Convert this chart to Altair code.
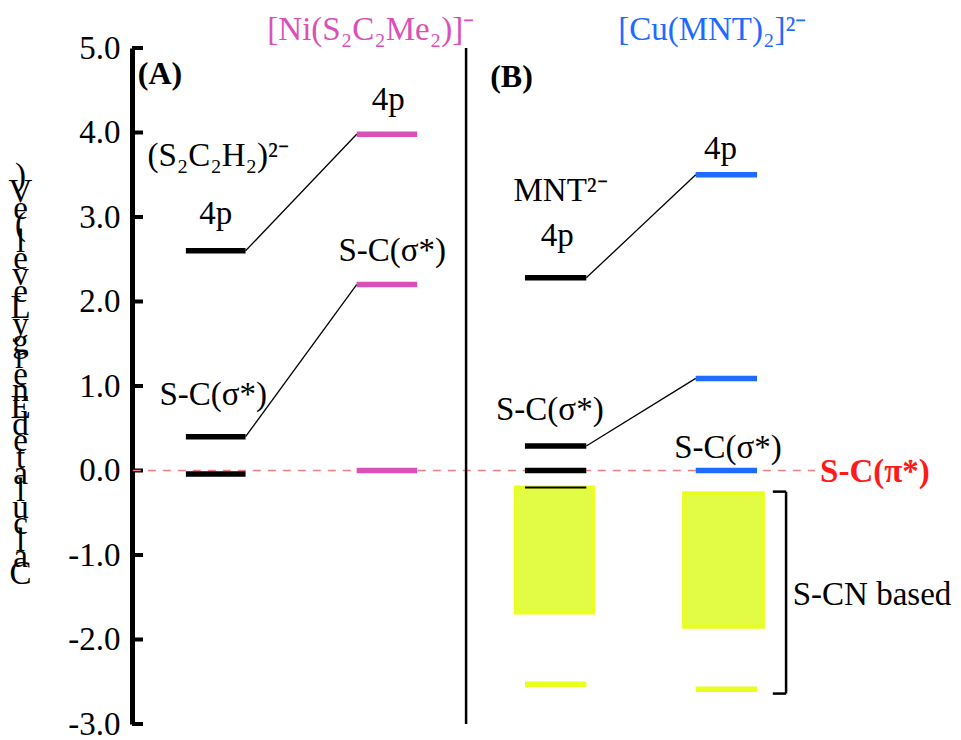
import altair as alt
import pandas as pd

SERIF = "Liberation Serif"
PINK = "#DA50B8"
BLUE = "#1F6BFF"
YELLOW_FILL = "#E2FC45"
YELLOW_EDGE = "#EAFF1E"

# Energy axis (eV)
y_ticks = [-3, -2, -1, 0, 1, 2, 3, 4, 5]

# Horizontal extents of each column of levels (arbitrary 0-100 units)
x_a_lig = [6.5, 13.7]
x_a_cpx = [27.1, 34.4]
x_b_lig = [47.4, 54.8]
x_b_cpx = [68.0, 75.4]

# Orbital energies (eV)
a_lig_levels = [2.60, 0.40, -0.04]      # (S2C2H2)2-
a_cpx_levels = [3.98, 2.20, 0.00]       # [Ni(S2C2Me2)]-
b_lig_levels = [2.28, 0.29, 0.00]       # MNT2-
b_cpx_levels = [3.50, 1.09, 0.00]       # [Cu(MNT)2]2-
b_lig_edge = [-0.20]
b_lig_low = [-2.53]
b_cpx_low = [-2.59]

# S-CN based bands
band_x0 = [46.3, 66.6]
band_x1 = [55.6, 76.1]
band_top = [-0.20, -0.27]
band_bottom = [-1.68, -1.85]

# Correlation lines: (ligand level, complex level)
a_links = [(2.60, 3.98), (0.40, 2.20)]
b_links = [(2.28, 3.50), (0.29, 1.09)]

axis_title = "Calculated Energy Level (eV)"

# ---- tables built from the arrays above ----
rows = []
for v in a_lig_levels:
    rows.append(dict(x0=x_a_lig[0], x1=x_a_lig[1], y=v, c="black", w=5.5))
for v in a_cpx_levels:
    rows.append(dict(x0=x_a_cpx[0], x1=x_a_cpx[1], y=v, c=PINK, w=5.5))
for v in b_lig_levels:
    rows.append(dict(x0=x_b_lig[0], x1=x_b_lig[1], y=v, c="black", w=5.5))
for v in b_cpx_levels:
    rows.append(dict(x0=x_b_cpx[0], x1=x_b_cpx[1], y=v, c=BLUE, w=5.5))
for v in b_lig_low:
    rows.append(dict(x0=x_b_lig[0], x1=x_b_lig[1], y=v, c=YELLOW_EDGE, w=5.5))
for v in b_cpx_low:
    rows.append(dict(x0=x_b_cpx[0], x1=x_b_cpx[1], y=v, c=YELLOW_EDGE, w=5.5))
levels = pd.DataFrame(rows)

edge = pd.DataFrame([dict(x0=x_b_lig[0], x1=x_b_lig[1], y=v) for v in b_lig_edge])

bands = pd.DataFrame(dict(x0=band_x0, x1=band_x1, y0=band_top, y1=band_bottom))

links = pd.DataFrame(
    [dict(x0=x_a_lig[1], y0=a, x1=x_a_cpx[0], y1=b) for a, b in a_links]
    + [dict(x0=x_b_lig[1], y0=a, x1=x_b_cpx[0], y1=b) for a, b in b_links]
)

ticks = pd.DataFrame(dict(y=y_ticks))

x_scale = alt.Scale(domain=[0, 100], nice=False, zero=False)
y_scale = alt.Scale(domain=[-3, 5], nice=False, zero=False)

X = lambda f: alt.X(f, type="quantitative", scale=x_scale, axis=None)
base_axis = alt.Axis(
    values=y_ticks,
    labelExpr="datum.value < 0 ? '-' + format(-datum.value, '.1f') : format(datum.value, '.1f')",
    labelFont=SERIF, labelFontSize=33, labelColor="black", labelPadding=12,
    ticks=False, grid=False,
    domainColor="black", domainWidth=5,
    # letters stacked upright, read from bottom to top
    title=list(reversed(axis_title)),
    titleFont=SERIF, titleFontSize=33, titleFontWeight="normal", titleColor="black",
    titleAngle=0, titleAlign="center", titleBaseline="middle",
    titleLineHeight=16.6, titleX=-112, titleY=127,
)

# y axis carrier + inward ticks
axis_layer = alt.Chart(ticks).mark_rule(color="black", strokeWidth=4).encode(
    y=alt.Y("y:Q", scale=y_scale, axis=base_axis),
    x=alt.value(0), x2=alt.value(11),
)

# Reference line at the S-C(pi*) energy
zero_df = pd.DataFrame(dict(x0=[0.1], x1=[82.4], y=[0.0]))
zero_line = alt.Chart(zero_df).mark_rule(color="#F08080", strokeWidth=1.6, strokeDash=[8, 7]).encode(
    x=X("x0"), x2="x1", y=alt.Y("y:Q", scale=y_scale)
)

# Divider between panels
div_df = pd.DataFrame(dict(x=[40.3], y0=[5.0], y1=[-3.0]))
divider = alt.Chart(div_df).mark_rule(color="black", strokeWidth=2.5).encode(
    x=X("x"), y=alt.Y("y0:Q", scale=y_scale), y2="y1"
)

band_layer = alt.Chart(bands).mark_rect(fill=YELLOW_FILL, stroke=YELLOW_EDGE, strokeWidth=4).encode(
    x=X("x0"), x2="x1", y=alt.Y("y0:Q", scale=y_scale), y2="y1"
)

edge_layer = alt.Chart(edge).mark_rule(color="black", strokeWidth=2).encode(
    x=X("x0"), x2="x1", y=alt.Y("y:Q", scale=y_scale)
)

level_layer = alt.Chart(levels).mark_rule(strokeCap="butt").encode(
    x=X("x0"), x2="x1", y=alt.Y("y:Q", scale=y_scale),
    color=alt.Color("c:N", scale=None),
    strokeWidth=alt.StrokeWidth("w:Q", scale=None),
)

link_layer = alt.Chart(links).mark_rule(color="black", strokeWidth=1.3).encode(
    x=X("x0"), x2="x1", y=alt.Y("y0:Q", scale=y_scale), y2="y1"
)

# Bracket around the S-CN based levels
br_top, br_bot = -0.25, -2.64
bracket_df = pd.DataFrame([
    dict(x0=78.9, x1=78.9, y0=br_top, y1=br_bot),
    dict(x0=77.3, x1=78.9, y0=br_top, y1=br_top),
    dict(x0=77.3, x1=78.9, y0=br_bot, y1=br_bot),
])
bracket = alt.Chart(bracket_df).mark_rule(color="black", strokeWidth=2.5).encode(
    x=X("x0"), x2="x1", y=alt.Y("y0:Q", scale=y_scale), y2="y1"
)

labels = pd.DataFrame([
    dict(x=10.4, y=3.72, t="(S₂C₂H₂)²⁻"),
    dict(x=10.1, y=3.03, t="4p"),
    dict(x=9.8, y=0.89, t="S-C(σ*)"),
    dict(x=30.9, y=4.39, t="4p"),
    dict(x=31.4, y=2.60, t="S-C(σ*)"),
    dict(x=51.7, y=3.31, t="MNT²⁻"),
    dict(x=51.3, y=2.78, t="4p"),
    dict(x=50.4, y=0.72, t="S-C(σ*)"),
    dict(x=71.0, y=3.80, t="4p"),
    dict(x=71.9, y=0.27, t="S-C(σ*)"),
])
label_layer = alt.Chart(labels).mark_text(font=SERIF, fontSize=33, color="black", baseline="middle").encode(
    x=X("x"), y=alt.Y("y:Q", scale=y_scale), text="t:N"
)

panel_tags = pd.DataFrame(dict(x=[0.7, 43.2], y=[4.69, 4.66], t=["(A)", "(B)"]))
tag_layer = alt.Chart(panel_tags).mark_text(
    font=SERIF, fontSize=32, fontWeight="bold", color="black", align="left", baseline="middle"
).encode(x=X("x"), y=alt.Y("y:Q", scale=y_scale), text="t:N")

titles = pd.DataFrame(dict(x=[28.8, 70.0], y=[5.21, 5.21], t=["[Ni(S₂C₂Me₂)]⁻", "[Cu(MNT)₂]²⁻"], c=[PINK, BLUE]))
title_layer = alt.Chart(titles).mark_text(font=SERIF, fontSize=33, baseline="middle").encode(
    x=X("x"), y=alt.Y("y:Q", scale=y_scale), text="t:N", color=alt.Color("c:N", scale=None)
)

pi_df = pd.DataFrame(dict(x=[83.0], y=[-0.02], t=["S-C(π*)"]))
pi_layer = alt.Chart(pi_df).mark_text(
    font=SERIF, fontSize=33, fontWeight="bold", color="#FF1A1A", align="left", baseline="middle"
).encode(x=X("x"), y=alt.Y("y:Q", scale=y_scale), text="t:N")

scn_df = pd.DataFrame(dict(x=[79.7], y=[-1.47], t=["S-CN based"]))
scn_layer = alt.Chart(scn_df).mark_text(
    font=SERIF, fontSize=33, color="black", align="left", baseline="middle"
).encode(x=X("x"), y=alt.Y("y:Q", scale=y_scale), text="t:N")

chart = alt.layer(
    axis_layer, zero_line, divider, band_layer, edge_layer, level_layer, link_layer,
    bracket, label_layer, tag_layer, title_layer, pi_layer, scn_layer,
).properties(
    width=829, height=676,
    autosize=alt.AutoSizeParams(type="none"),
    padding={"left": 132, "top": 48, "right": 0, "bottom": 16},
    background="white",
).configure_view(stroke=None)

chart.save("out.html", embed_options={"renderer": "svg", "actions": False})
